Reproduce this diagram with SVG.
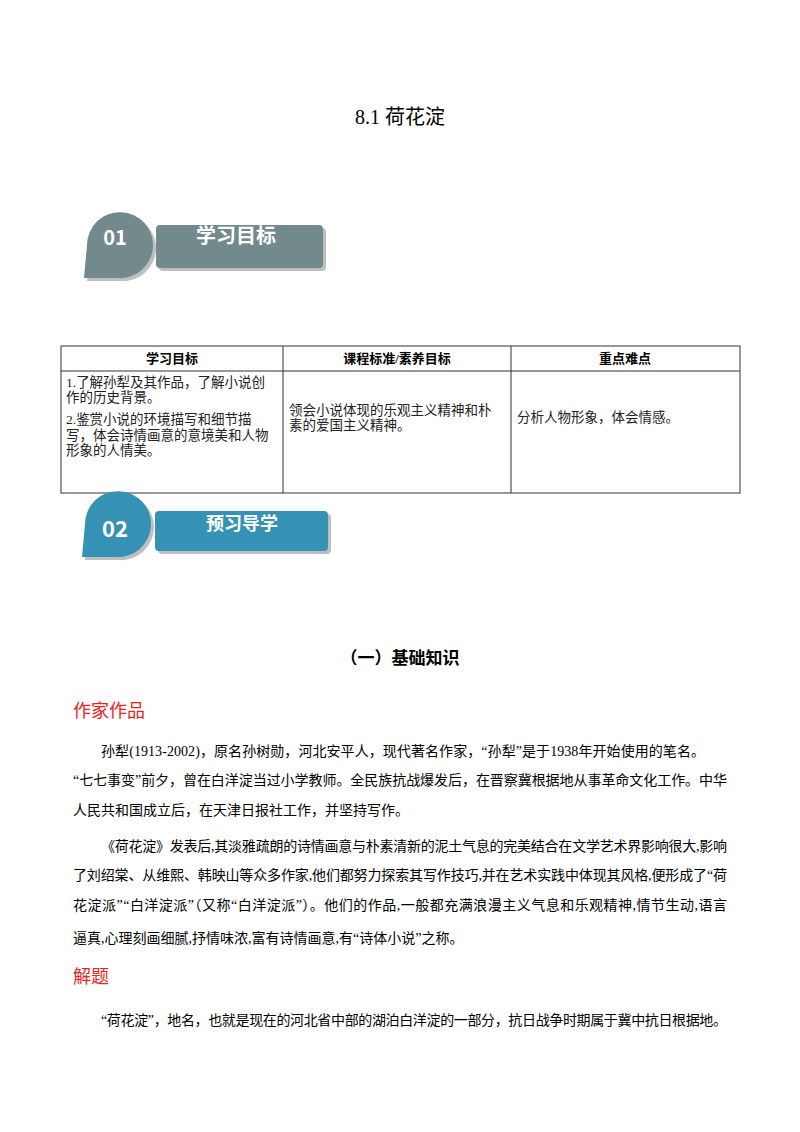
<svg xmlns="http://www.w3.org/2000/svg" width="800" height="1132" viewBox="0 0 800 1132">
<style>
text{font-family:"Liberation Serif","Noto Sans CJK SC",serif;fill:#000}
.b{font-size:14px}
.t{font-size:13.5px;fill:#222}
.h{font-size:13px;font-weight:bold}
.red{font-size:18px;fill:#e8241c;font-family:"Noto Sans CJK SC",sans-serif}
.bt{font-family:"Noto Sans CJK SC",sans-serif;font-weight:bold;fill:#fff}
.cell{fill:none;stroke:#333;stroke-width:1}
</style>
<rect width="800" height="1132" fill="#fff"/>
<text x="400" y="124" text-anchor="middle" font-size="20">8.1 荷花淀</text>
<g id="badge1">
<path d="M84,278 L87,245 A33,33 0 1 1 117,278 Z" fill="#bfbfbf" transform="translate(3,3)"/>
<path d="M84,278 L87,245 A33,33 0 1 1 117,278 Z" fill="#728a8c"/>
<text x="115" y="245" text-anchor="middle" class="bt" font-size="20">01</text>
<rect x="159" y="228" width="167" height="43" rx="4" fill="#bfbfbf"/>
<rect x="156" y="225" width="167" height="43" rx="4" fill="#728a8c"/>
<text x="236" y="243" text-anchor="middle" class="bt" font-size="20">学习目标</text>
</g>
<g id="table">
<rect x="61" y="346" width="679" height="147" class="cell"/>
<line x1="61" y1="371" x2="740" y2="371" class="cell"/>
<line x1="283" y1="346" x2="283" y2="493" class="cell"/>
<line x1="511" y1="346" x2="511" y2="493" class="cell"/>
<text x="172" y="363" text-anchor="middle" class="h">学习目标</text>
<text x="397" y="363" text-anchor="middle" class="h">课程标准/素养目标</text>
<text x="625" y="363" text-anchor="middle" class="h">重点难点</text>
<text x="66" y="387" class="t">1.了解孙犁及其作品，了解小说创</text>
<text x="66" y="402" class="t">作的历史背景。</text>
<text x="66" y="424" class="t">2.鉴赏小说的环境描写和细节描</text>
<text x="66" y="440" class="t">写，体会诗情画意的意境美和人物</text>
<text x="66" y="455" class="t">形象的人情美。</text>
<text x="289" y="415" class="t">领会小说体现的乐观主义精神和朴</text>
<text x="289" y="430" class="t">素的爱国主义精神。</text>
<text x="517" y="422" class="t">分析人物形象，体会情感。</text>
</g>
<g id="badge2">
<path d="M82,557 L85,524 A33,33 0 1 1 115,557 Z" fill="#bfbfbf" transform="translate(3,3)"/>
<path d="M82,557 L85,524 A33,33 0 1 1 115,557 Z" fill="#3592b4"/>
<text x="115" y="537" text-anchor="middle" class="bt" font-size="22">02</text>
<rect x="158" y="514" width="173" height="40" rx="4" fill="#bfbfbf"/>
<rect x="155" y="511" width="173" height="40" rx="4" fill="#3592b4"/>
<text x="242" y="530" text-anchor="middle" class="bt" font-size="18">预习导学</text>
</g>
<text x="400" y="664" text-anchor="middle" font-size="17" font-weight="bold">（一）基础知识</text>
<text x="73" y="717" class="red">作家作品</text>
<text x="101" y="756" class="b" textLength="604" lengthAdjust="spacing">孙犁(1913-2002)，原名孙树勋，河北安平人，现代著名作家，“孙犁”是于1938年开始使用的笔名。</text>
<text x="73" y="785" class="b" textLength="654" lengthAdjust="spacing">“七七事变”前夕，曾在白洋淀当过小学教师。全民族抗战爆发后，在晋察冀根据地从事革命文化工作。中华</text>
<text x="73" y="815" class="b">人民共和国成立后，在天津日报社工作，并坚持写作。</text>
<text x="101" y="851" class="b" textLength="626" lengthAdjust="spacing">《荷花淀》发表后,其淡雅疏朗的诗情画意与朴素清新的泥土气息的完美结合在文学艺术界影响很大,影响</text>
<text x="73" y="880" class="b" textLength="654" lengthAdjust="spacing">了刘绍棠、从维熙、韩映山等众多作家,他们都努力探索其写作技巧,并在艺术实践中体现其风格,便形成了“荷</text>
<text x="73" y="910" class="b" textLength="654" lengthAdjust="spacing">花淀派”“白洋淀派”（又称“白洋淀派”）。他们的作品,一般都充满浪漫主义气息和乐观精神,情节生动,语言</text>
<text x="73" y="943" class="b">逼真,心理刻画细腻,抒情味浓,富有诗情画意,有“诗体小说”之称。</text>
<text x="73" y="983" class="red">解题</text>
<text x="101" y="1025" class="b" textLength="626" lengthAdjust="spacing">“荷花淀”，地名，也就是现在的河北省中部的湖泊白洋淀的一部分，抗日战争时期属于冀中抗日根据地。</text>
</svg>
